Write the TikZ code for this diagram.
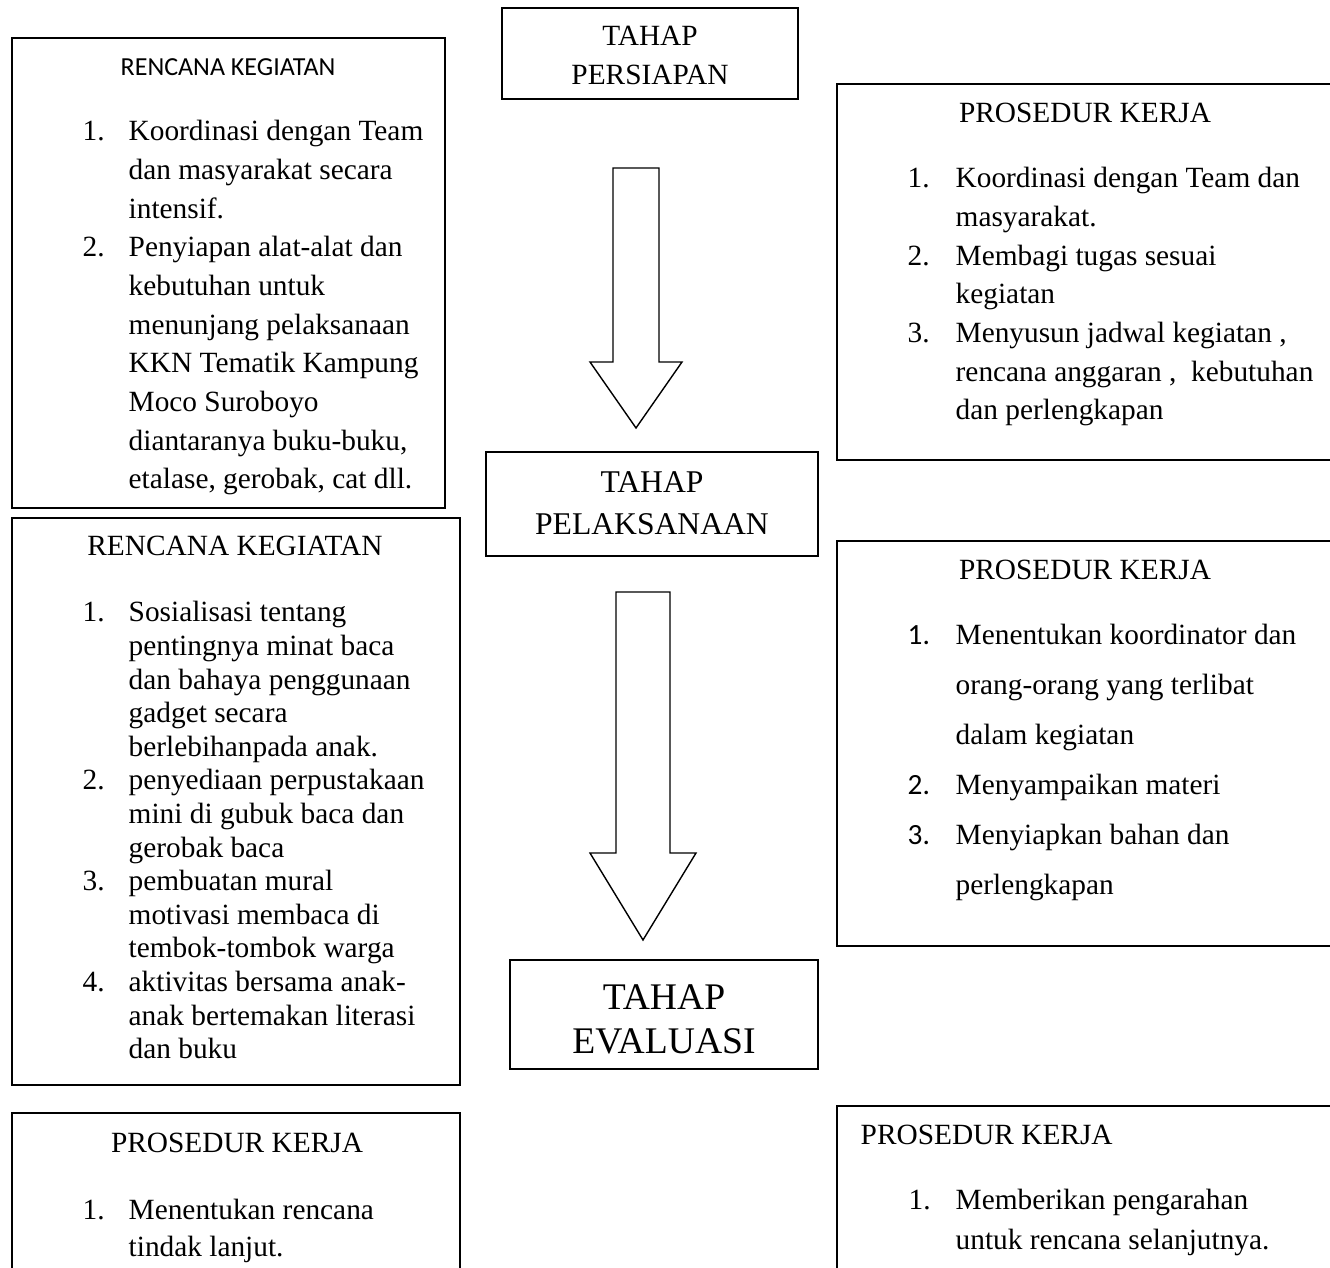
\documentclass[tikz,border=0pt]{standalone}
\usepackage{fontspec}
\setmainfont{Liberation Serif}
\newfontfamily\calibri{Carlito}
\newcommand{\boxfont}[1]{\fontsize{8.35}{#1}\selectfont}
\begin{document}
\begin{tikzpicture}[
    box/.style={draw, line width=0.57pt, inner sep=0pt, outer sep=0pt, anchor=north west},
    txt/.style={inner sep=0pt, anchor=base west},
    head/.style={inner sep=0pt, anchor=base},
    blockarrow/.style={draw, line width=0.4pt, fill=white}]
        \useasboundingbox (0,0) rectangle (13.30,-12.68);
        \clip (0,0) rectangle (13.30,-12.68);
        \node[box, minimum width=4.33cm, minimum height=4.70cm] (rk1) at (0.12,-0.38) {};
        \node[box, minimum width=4.48cm, minimum height=5.67cm] (rk2) at (0.12,-5.18) {};
        \node[box, minimum width=4.48cm, minimum height=2.00cm] (pk3) at (0.12,-11.13) {};
        \node[box, minimum width=5.20cm, minimum height=3.76cm] (pk1) at (8.37,-0.84) {};
        \node[box, minimum width=5.20cm, minimum height=4.05cm] (pk2) at (8.37,-5.41) {};
        \node[box, minimum width=5.20cm, minimum height=2.00cm] (pk4) at (8.37,-11.06) {};
        \node[box, minimum width=2.96cm, minimum height=0.91cm] (persiapan) at (5.02,-0.08) {};
        \node[box, minimum width=3.32cm, minimum height=1.04cm] (pelaksanaan) at (4.86,-4.52) {};
        \node[box, minimum width=3.08cm, minimum height=1.09cm] (evaluasi) at (5.10,-9.60) {};
        \node[head] (persiapant) at (6.50,-0.46) {\boxfont{11.0}\begin{tabular}[t]{@{}c@{}}TAHAP\\PERSIAPAN\end{tabular}};
        \node[head] (pelaksanaant) at (6.52,-4.93) {\fontsize{9}{11.95}\selectfont\begin{tabular}[t]{@{}c@{}}TAHAP\\PELAKSANAAN\end{tabular}};
        \node[head] (evaluasit) at (6.64,-10.10) {\fontsize{10.7}{12.3}\selectfont\begin{tabular}[t]{@{}c@{}}TAHAP\\EVALUASI\end{tabular}};
        \draw[blockarrow] (6.13,-1.68) -- (6.59,-1.68) -- (6.59,-3.62) -- (6.82,-3.62) -- (6.36,-4.28) -- (5.90,-3.62) -- (6.13,-3.62) -- cycle;
        \draw[blockarrow] (6.16,-5.92) -- (6.70,-5.92) -- (6.70,-8.53) -- (6.96,-8.53) -- (6.43,-9.40) -- (5.90,-8.53) -- (6.16,-8.53) -- cycle;
        \node[head, font=\calibri\fontsize{7.4}{9}\selectfont] (rk1t) at (2.28,-0.76) {RENCANA KEGIATAN};
        \node[txt] (rk1l) at (0.82,-1.41) {\boxfont{11.0}\begin{tabular}[t]{@{}p{0.46cm}@{}l@{}}
            1. & Koordinasi dengan Team\\ & dan masyarakat secara\\ & intensif.\\
            2. & Penyiapan alat-alat dan\\ & kebutuhan untuk\\ & menunjang pelaksanaan\\
               & KKN Tematik Kampung\\ & Moco Suroboyo\\ & diantaranya buku-buku,\\
               & etalase, gerobak, cat dll.\end{tabular}};
        \node[head] (rk2t) at (2.35,-5.56) {\boxfont{11.0}RENCANA KEGIATAN};
        \node[txt] (rk2l) at (0.82,-6.22) {\boxfont{9.56}\begin{tabular}[t]{@{}p{0.46cm}@{}l@{}}
            1. & Sosialisasi tentang\\ & pentingnya minat baca\\ & dan bahaya penggunaan\\
               & gadget secara\\ & berlebihanpada anak.\\
            2. & penyediaan perpustakaan\\ & mini di gubuk baca dan\\ & gerobak baca\\
            3. & pembuatan mural\\ & motivasi membaca di\\ & tembok-tombok warga\\
            4. & aktivitas bersama anak-\\ & anak bertemakan literasi\\ & dan buku\end{tabular}};
        \node[head] (pk1t) at (10.85,-1.23) {\boxfont{11.0}PROSEDUR KERJA};
        \node[txt] (pk1l) at (9.07,-1.88) {\boxfont{11.0}\begin{tabular}[t]{@{}p{0.48cm}@{}l@{}}
            1. & Koordinasi dengan Team dan\\ & masyarakat.\\
            2. & Membagi tugas sesuai\\ & kegiatan\\
            3. & Menyusun jadwal kegiatan ,\\ & rencana anggaran ,\ \ kebutuhan\\
               & dan perlengkapan\end{tabular}};
        \node[head] (pk2t) at (10.85,-5.80) {\boxfont{11.0}PROSEDUR KERJA};
        \node[txt] (pk2l) at (9.07,-6.45) {\boxfont{14.2}\begin{tabular}[t]{@{}p{0.48cm}@{}l@{}}
            {\calibri 1.} & Menentukan koordinator dan\\ & orang-orang yang terlibat\\ & dalam kegiatan\\
            {\calibri 2.} & Menyampaikan materi\\
            {\calibri 3.} & Menyiapkan bahan dan\\ & perlengkapan\end{tabular}};
        \node[head] (pk3t) at (2.37,-11.53) {\boxfont{11.0}PROSEDUR KERJA};
        \node[txt] (pk3l) at (0.82,-12.20) {\boxfont{10.5}\begin{tabular}[t]{@{}p{0.46cm}@{}l@{}}
            1. & Menentukan rencana\\ & tindak lanjut.\end{tabular}};
        \node[txt] (pk4t) at (8.60,-11.45) {\boxfont{11.0}PROSEDUR KERJA};
        \node[txt] (pk4l) at (9.08,-12.10) {\boxfont{11.1}\begin{tabular}[t]{@{}p{0.47cm}@{}l@{}}
            1. & Memberikan pengarahan\\ & untuk rencana selanjutnya.\end{tabular}};
    \end{tikzpicture}
\end{document}
